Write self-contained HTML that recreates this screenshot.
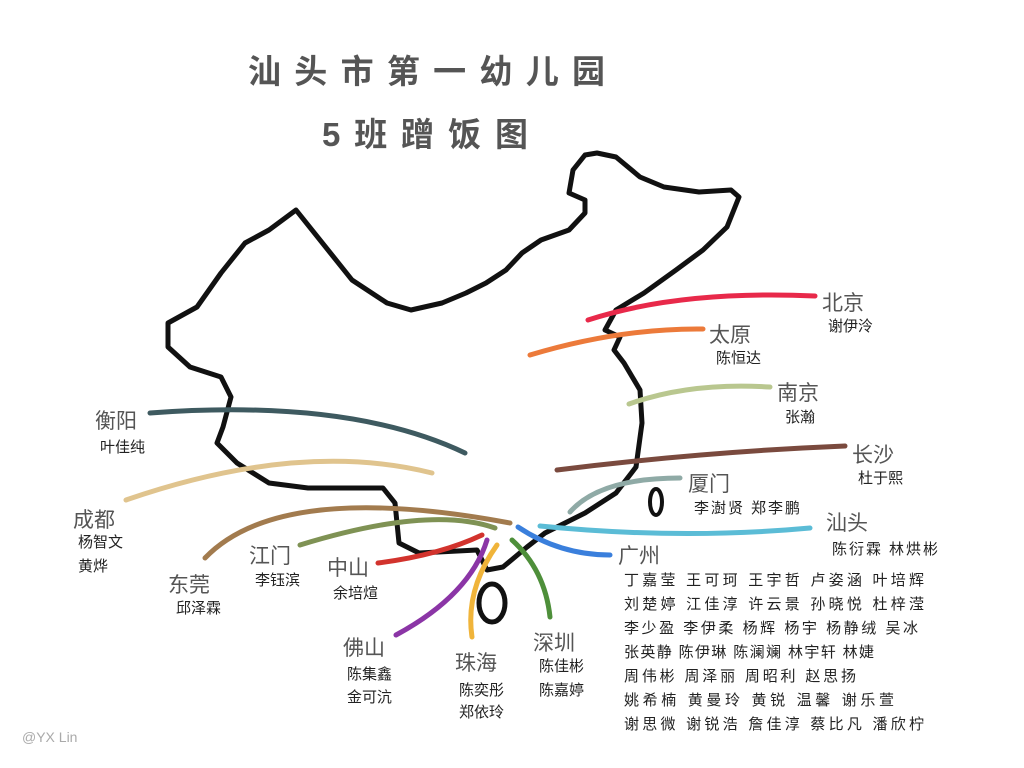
<!DOCTYPE html>
<html><head><meta charset="utf-8"><style>
html,body{margin:0;padding:0;background:#fff;}
svg{display:block;}
text{font-family:"Liberation Sans","Noto Sans CJK SC",sans-serif;}
.t{font-size:33px;font-weight:bold;fill:#555;}
.c{font-size:21px;fill:#555;}
.n{font-size:15px;fill:#222;}
.l{fill:none;stroke-width:5;stroke-linecap:round;}
</style></head><body>
<svg width="1024" height="768" viewBox="0 0 1024 768">
<text class="t" x="248" y="83" textLength="357" lengthAdjust="spacing">汕头市第一幼儿园</text>
<text class="t" x="322" y="146" textLength="206" lengthAdjust="spacing">5班蹭饭图</text>

<path fill="none" stroke="#111" stroke-width="5" stroke-linejoin="round" d="
M597,153 L616,157 L640,177 L664,187 L699,192 L731,190 L739,197 L727,227 L703,250 L676,270 L644,293 L616,310 L605,330 L620,337 L614,350 L624,363 L640,390 L642,423 L636,467 L616,493 L585,513 L545,533 L527,547 L503,567 L487,570 L477,550 L419,553 L399,543 L395,503 L383,488 L308,488 L269,483 L237,463 L217,443 L223,427 L231,397 L221,377 L190,367 L168,347 L168,323 L197,307 L221,273 L245,243 L269,230 L296,210 L352,280 L387,303 L411,310 L442,303 L466,293 L486,283 L506,270 L522,253 L541,240 L569,230 L585,213 L585,200 L569,193 L573,170 L585,155 Z"/>
<ellipse cx="492" cy="603" rx="13" ry="19" fill="none" stroke="#111" stroke-width="5"/>
<ellipse cx="656" cy="502" rx="6" ry="13" fill="none" stroke="#111" stroke-width="4"/>

<path class="l" stroke="#e8294a" d="M588,320 Q680,290 815,296"/>
<path class="l" stroke="#ec7a3a" d="M530,355 Q620,328 703,329"/>
<path class="l" stroke="#b9c78f" d="M629,404 Q690,382 770,387"/>
<path class="l" stroke="#7a4a3e" d="M557,470 Q700,452 845,446"/>
<path class="l" stroke="#8faaa6" d="M570,512 Q600,478 680,478"/>
<path class="l" stroke="#5bbcd6" d="M540,526 Q680,540 810,528"/>
<path class="l" stroke="#3a7fdc" d="M518,527 Q560,555 610,555"/>
<path class="l" stroke="#3e5a60" d="M150,413 Q350,398 465,453"/>
<path class="l" stroke="#e0c48e" d="M126,500 Q300,440 432,473"/>
<path class="l" stroke="#a27b4e" d="M205,558 Q280,480 510,523"/>
<path class="l" stroke="#7f9254" d="M300,545 Q430,505 495,528"/>
<path class="l" stroke="#d2332d" d="M378,563 Q440,555 482,535"/>
<path class="l" stroke="#8b35a6" d="M396,635 Q470,595 487,540"/>
<path class="l" stroke="#f0b43a" d="M472,637 Q465,590 497,545"/>
<path class="l" stroke="#4e8f3a" d="M550,617 Q545,570 512,540"/>

<text class="c" x="822" y="310">北京</text><text class="n" x="828" y="331">谢伊泠</text>
<text class="c" x="709" y="342">太原</text><text class="n" x="716" y="363">陈恒达</text>
<text class="c" x="777" y="400">南京</text><text class="n" x="785" y="422">张瀚</text>
<text class="c" x="852" y="462">长沙</text><text class="n" x="858" y="483">杜于熙</text>
<text class="c" x="688" y="491">厦门</text><text class="n" x="694" y="513" textLength="106" lengthAdjust="spacing">李澍贤 郑李鹏</text>
<text class="c" x="826" y="530">汕头</text><text class="n" x="832" y="554" textLength="106" lengthAdjust="spacing">陈衍霖 林烘彬</text>
<text class="c" x="618" y="563">广州</text>
<text class="n" x="624" y="585" textLength="300" lengthAdjust="spacing">丁嘉莹  王可珂  王宇哲  卢姿涵  叶培辉</text>
<text class="n" x="624" y="609" textLength="300" lengthAdjust="spacing">刘楚婷  江佳淳  许云景  孙晓悦  杜梓滢</text>
<text class="n" x="624" y="633" textLength="294" lengthAdjust="spacing">李少盈 李伊柔 杨辉 杨宇  杨静绒  吴冰</text>
<text class="n" x="624" y="657" textLength="250" lengthAdjust="spacing">张英静 陈伊琳  陈澜斓  林宇轩  林婕</text>
<text class="n" x="624" y="681" textLength="232" lengthAdjust="spacing">周伟彬  周泽丽  周昭利 赵思扬</text>
<text class="n" x="624" y="705" textLength="270" lengthAdjust="spacing">姚希楠  黄曼玲  黄锐  温馨   谢乐萱</text>
<text class="n" x="624" y="729" textLength="300" lengthAdjust="spacing">谢思微  谢锐浩  詹佳淳  蔡比凡  潘欣柠</text>

<text class="c" x="95" y="428">衡阳</text><text class="n" x="100" y="452">叶佳纯</text>
<text class="c" x="73" y="527">成都</text><text class="n" x="78" y="547">杨智文</text><text class="n" x="78" y="571">黄烨</text>
<text class="c" x="168" y="592">东莞</text><text class="n" x="176" y="613">邱泽霖</text>
<text class="c" x="249" y="563">江门</text><text class="n" x="255" y="585">李钰滨</text>
<text class="c" x="327" y="575">中山</text><text class="n" x="333" y="598">余培煊</text>
<text class="c" x="343" y="655">佛山</text><text class="n" x="347" y="679">陈集鑫</text><text class="n" x="347" y="702">金可沆</text>
<text class="c" x="455" y="670">珠海</text><text class="n" x="459" y="695">陈奕彤</text><text class="n" x="459" y="717">郑依玲</text>
<text class="c" x="533" y="650">深圳</text><text class="n" x="539" y="671">陈佳彬</text><text class="n" x="539" y="695">陈嘉婷</text>

<text x="22" y="742" style="font-size:14px;fill:#aaa;">@YX Lin</text>
</svg>
</body></html>
